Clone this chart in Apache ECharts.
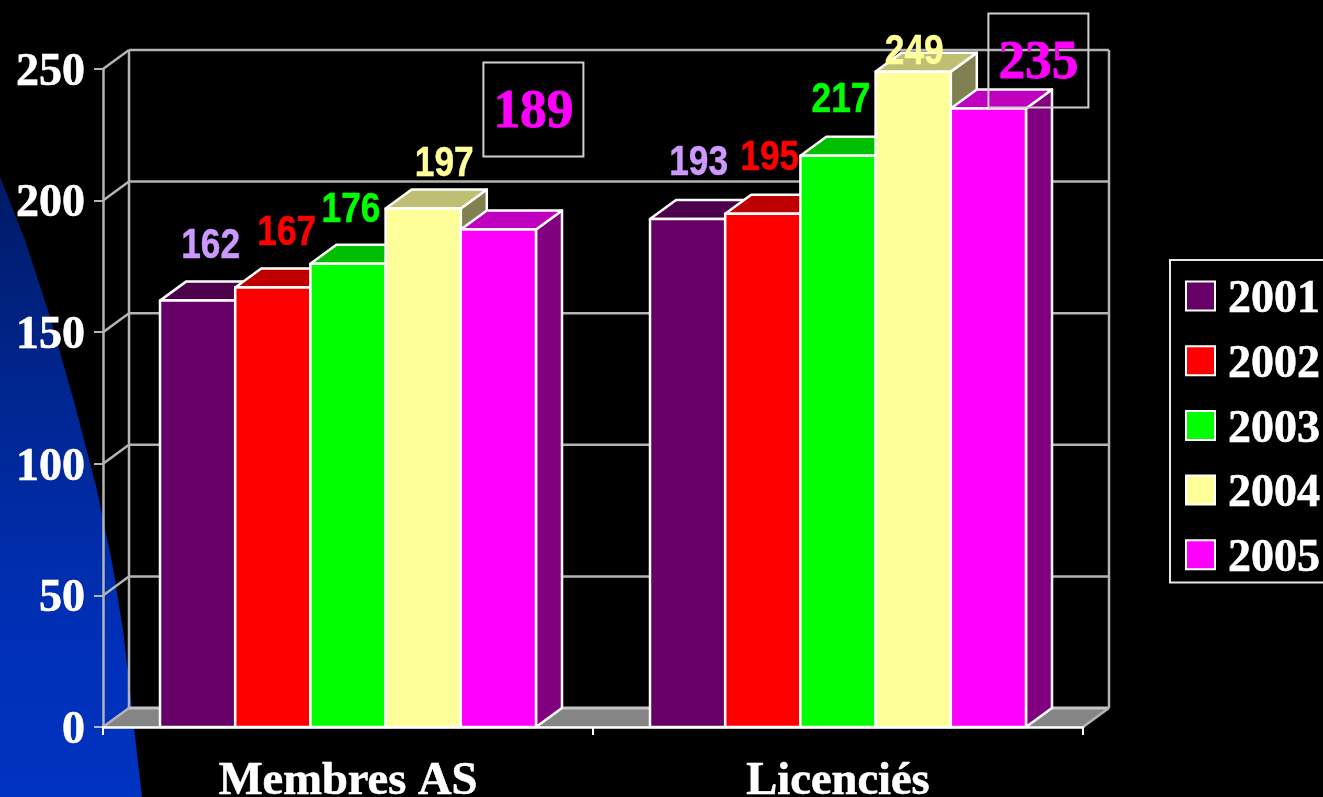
<!DOCTYPE html>
<html><head><meta charset="utf-8">
<style>html,body{margin:0;padding:0;background:#000;overflow:hidden}#c{width:1323px;height:797px}</style>
<script src="https://cdn.jsdelivr.net/npm/echarts@6/dist/echarts.min.js"></script>
</head><body><div id="c"></div>
<script>
const categories = ['Membres AS', 'Licenciés'];
const years = ['2001', '2002', '2003', '2004', '2005'];
const values2001 = [162, 193];
const values2002 = [167, 195];
const values2003 = [176, 217];
const values2004 = [197, 249];
const values2005 = [189, 235];
const yTicks = [0, 50, 100, 150, 200, 250];

const allValues = [values2001, values2002, values2003, values2004, values2005];
const frontColors = ['#660066', '#ff0000', '#00ff00', '#ffff99', '#ff00ff'];
const topColors = ['#4c004c', '#bf0000', '#00bf00', '#bfbf73', '#bf00bf'];
const sideColors = ['#330033', '#800000', '#008000', '#808050', '#800080'];
const labelColors = ['#cc99ff', '#ff0000', '#00ff00', '#ffff99', '#ff00ff'];
// manual label placement relative to the bar's front-top centre: [series][category]
const labelShift = [
  [[13, -55], [11, -57]],
  [[14, -55], [7, -56]],
  [[3, -54], [3, -56]],
  [[21, -45], [1, -20]],
  [[35, -120], [50, -48]]
];
const DX = 26, DY = -19, BAR_FRAC = 75.2 / 490, WALL = '#b4b4b4';
const SERIF = '"Liberation Serif","Times New Roman",serif';
const NARROW = '"Liberation Sans",sans-serif';

function poly(points, fill, stroke, w, z2) {
  return {type: 'polygon', shape: {points}, z2: z2 || 0,
    style: {fill, stroke: stroke || null, lineWidth: w || 0, lineJoin: 'round'}};
}
function line(x1, y1, x2, y2, color, w) {
  return {type: 'line', shape: {x1, y1, x2, y2}, style: {stroke: color, lineWidth: w}};
}
function wallItem(params, api) {
  const cs = params.coordSys, v = api.value(0);
  const y = api.coord([0, v])[1], L = cs.x, R = cs.x + cs.width;
  const ch = [];
  if (v === 0) {
    ch.push(poly([[L, y], [L + DX, y + DY], [R + DX, y + DY], [R, y]], '#858585'));
    ch.push(line(L + DX, y + DY, R + DX, y + DY, '#c4c4c4', 3));
    ch.push(line(L, y, L + DX, y + DY, WALL, 2.5));
    ch.push(line(R, y, R + DX, y + DY, WALL, 2.5));
  } else {
    ch.push(line(L, y, L + DX, y + DY, WALL, 2.5));
    ch.push(line(L + DX, y + DY, R + DX, y + DY, WALL, 2.5));
  }
  if (v === yTicks[yTicks.length - 1]) {
    const y0 = api.coord([0, 0])[1];
    ch.push(line(L + DX, y + DY, L + DX, y0 + DY, WALL, 2.5));
    ch.push(line(R + DX, y + DY, R + DX, y0 + DY, WALL, 2.5));
  }
  return {type: 'group', children: ch};
}
function barRenderer(si) {
  return function (params, api) {
    const ci = api.value(0), val = api.value(1);
    const band = params.coordSys.width / categories.length;
    const w = band * BAR_FRAC;
    const c = api.coord([ci, 0]), t = api.coord([ci, val]);
    const x0 = c[0] + (si - 2.5) * w, x1 = x0 + w, yb = c[1], yt = t[1];
    const ch = [
      poly([[x1, yb], [x1 + DX, yb + DY], [x1 + DX, yt + DY], [x1, yt]], sideColors[si], '#fff', 2.5),
      poly([[x0, yt], [x0 + DX, yt + DY], [x1 + DX, yt + DY], [x1, yt]], topColors[si], '#fff', 2.5),
      poly([[x0, yb], [x0, yt], [x1, yt], [x1, yb]], frontColors[si], '#fff', 2.5)
    ];
    const s = labelShift[si][ci];
    const lx = (x0 + x1) / 2 + s[0], ly = yt + s[1];
    const boxed = si === 4;
    if (boxed) {
      ch.push({type: 'rect', z2: 50, shape: {x: lx - 50, y: ly - 47, width: 100, height: 94},
        style: {fill: null, stroke: '#cfcfcf', lineWidth: 2}});
    }
    ch.push({type: 'text', z2: 60, x: lx, y: boxed ? ly + 3 : ly + 1, scaleX: boxed ? 0.97 : 0.84, style: {
      x: 0, y: 0, text: String(val), fill: labelColors[si],
      stroke: labelColors[si], lineWidth: boxed ? 0.8 : 0.5,
      align: 'center', verticalAlign: 'middle',
      font: boxed ? 'bold 55px ' + SERIF : 'bold 42px ' + NARROW
    }});
    return {type: 'group', children: ch};
  };
}
const heavy = {textBorderColor: '#fff', textBorderWidth: 0.6};
const serifText = Object.assign({color: '#fff', fontFamily: SERIF, fontWeight: 'bold', fontSize: 46}, heavy);
const spacer = h => ({fontSize: 1, lineHeight: h, color: 'transparent'});
const chart = echarts.init(document.getElementById('c'), null, {renderer: 'canvas', width: 1323, height: 797});
chart.setOption({
  animation: false,
  backgroundColor: '#000',
  graphic: [{
    type: 'polygon', z: -10, silent: true,
    shape: {points: [[0,177],[25,240],[50,317],[75,405],[97,490],[112,562],[123,630],[130,690],[136,745],[142,797],[0,797]]},
    style: {fill: new echarts.graphic.LinearGradient(0, 0, 0, 1, [
      {offset: 0, color: '#001a66'}, {offset: 0.35, color: '#002690'},
      {offset: 0.75, color: '#0030b8'}, {offset: 1, color: '#0033c0'}])}
  }],
  grid: {left: 103, top: 69, width: 980, height: 658, outerBoundsMode: 'none', containLabel: false},
  xAxis: {
    type: 'category', data: categories, z: 5,
    axisLine: {lineStyle: {color: '#fff', width: 2.5}},
    axisTick: {show: true, length: 8, lineStyle: {color: '#fff', width: 2}},
    axisLabel: Object.assign({color: '#fff', fontFamily: SERIF, fontWeight: 'bold', fontSize: 46.5, margin: 31}, heavy)
  },
  yAxis: {
    type: 'value', min: 0, max: 250, interval: 50, z: 3,
    axisLine: {show: true, lineStyle: {color: WALL, width: 2.5}},
    axisTick: {show: true, length: 9, lineStyle: {color: WALL, width: 2}},
    splitLine: {show: false},
    axisLabel: {
      margin: 18,
      formatter: v => '{s| }\n{a|' + v + '}',
      rich: {s: spacer(8), a: Object.assign({lineHeight: 42}, serifText)}
    }
  },
  legend: {
    left: 1170, top: 260, orient: 'vertical', align: 'left',
    data: years.map(name => ({name, icon: 'rect'})),
    itemWidth: 29, itemHeight: 29, itemGap: 15.9,
    padding: [15, 40, 0, 15],
    borderColor: '#e6e6e6', borderWidth: 2,
    formatter: name => '{s| }\n{a|' + name + '}',
    textStyle: {
      rich: {s: spacer(9), a: Object.assign({lineHeight: 41, padding: [0, 0, 0, 8]}, serifText)}
    },
    selectedMode: false
  },
  series: [
    {type: 'custom', name: 'walls', z: 1, silent: true, clip: false,
     coordinateSystem: 'cartesian2d', encode: {y: 0}, data: yTicks.map(v => [v]), renderItem: wallItem}
  ].concat(years.map((name, si) => ({
    type: 'custom', name, z: 2, silent: true, clip: false,
    coordinateSystem: 'cartesian2d',
    itemStyle: {color: frontColors[si], borderColor: '#fff', borderWidth: 2},
    encode: {x: 0, y: 1},
    data: allValues[si].map((v, i) => [i, v]),
    renderItem: barRenderer(si)
  })))
});
</script></body></html>
